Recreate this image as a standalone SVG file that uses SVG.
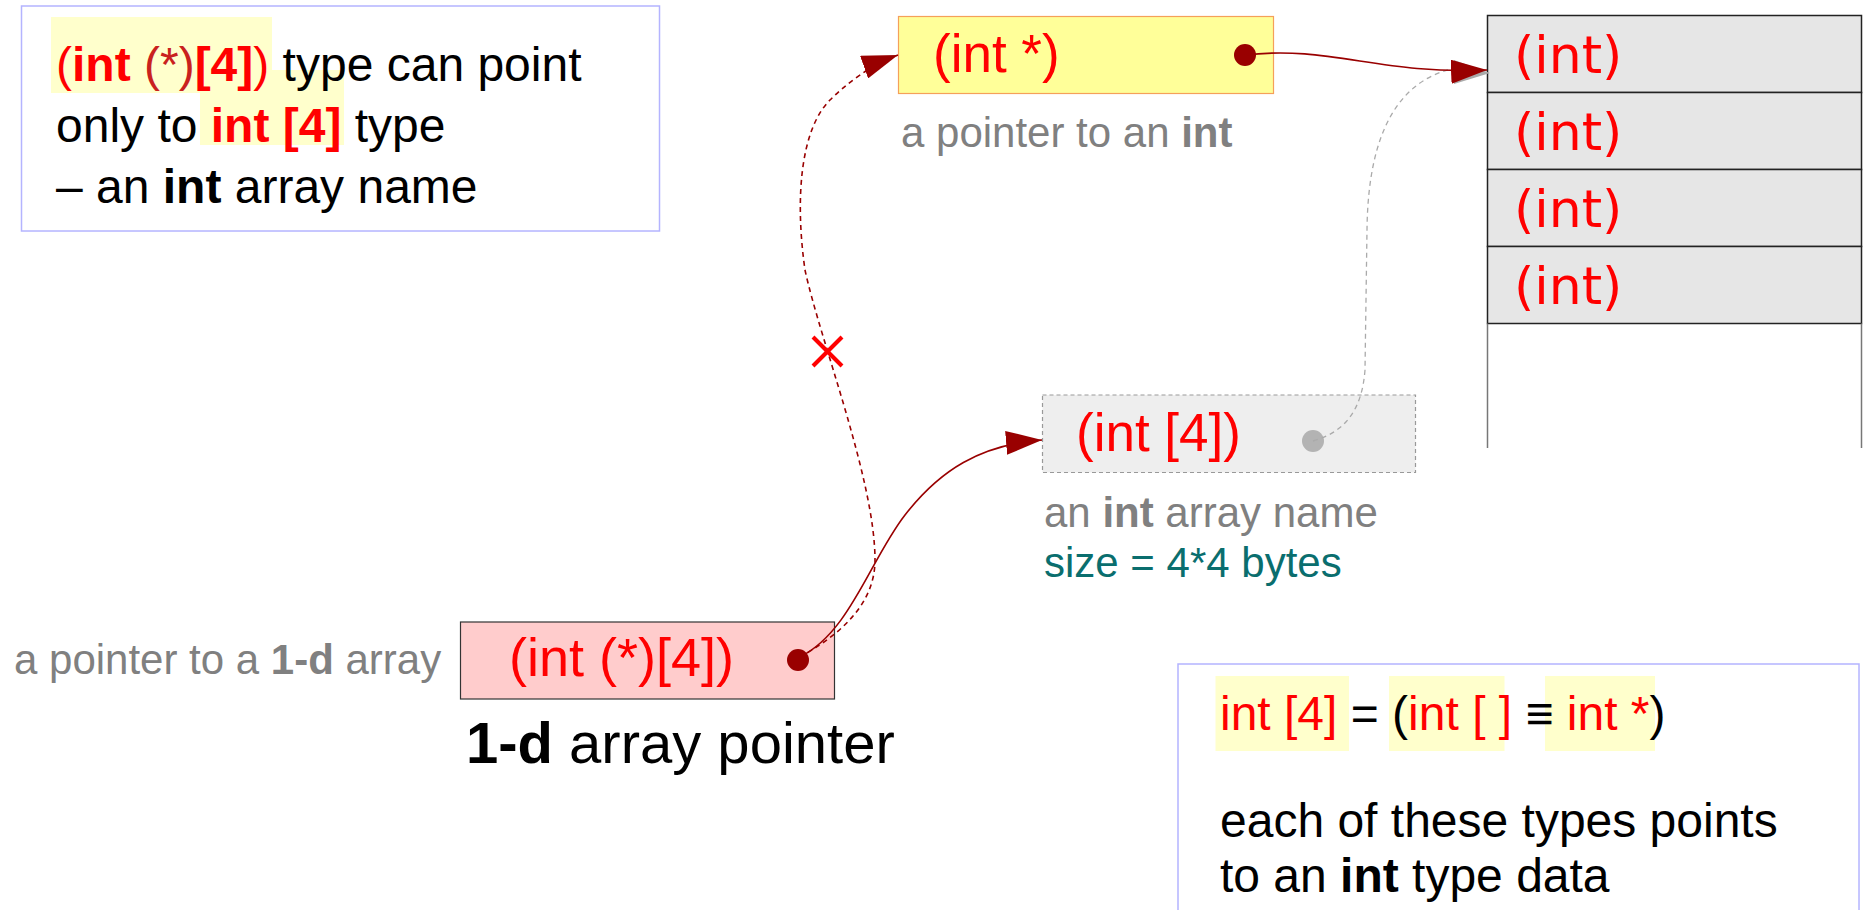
<svg xmlns="http://www.w3.org/2000/svg" width="1870" height="910" viewBox="0 0 1870 910">
<style>
text{font-family:"Liberation Sans",Arial,sans-serif;}
.t48{font-size:48px;fill:#000;}
.gray{font-size:42px;fill:#808080;}
.teal{font-size:42px;fill:#0a6e6e;}
.lbl{font-size:53px;fill:#ff0000;}
.cell{font-family:"DejaVu Sans",sans-serif;font-size:52px;fill:#ff0000;}
.red{fill:#ff0000;}
.b{font-weight:bold;}
.hl{fill:#ffffcc;}
.note{fill:#fff;stroke:#b4b4ff;stroke-width:1.5;}
.conn{fill:none;stroke:#990000;stroke-width:1.6;}
.dash{stroke-dasharray:5,4;}
</style>
<defs>
<marker id="arr" markerUnits="userSpaceOnUse" markerWidth="38" markerHeight="24" refX="36" refY="12" orient="auto">
<path d="M0,0 L36,12 L0,24 z" fill="#990000"/>
</marker>
</defs>

<g id="note-top">
<rect class="note" x="21.5" y="6" width="638" height="225"/>
<rect class="hl" x="51" y="17" width="221" height="76"/>
<rect class="hl" x="200" y="70" width="144" height="75"/>
<text class="t48" x="56" y="81"><tspan class="red">(</tspan><tspan class="red b">int</tspan> <tspan fill="#c9211e">(*)</tspan><tspan class="red b">[4]</tspan><tspan class="red">)</tspan> type can point</text>
<text class="t48" x="56" y="142">only to <tspan class="red b">int [4]</tspan> type</text>
<text class="t48" x="56" y="203">– an <tspan class="b">int</tspan> array name</text>
</g>

<g id="node-intptr">
<rect x="898.5" y="16.5" width="375" height="77" fill="#ffff99" stroke="#f5a05a" stroke-width="1.2"/>
<text class="lbl" x="933" y="72">(int *)</text>
<circle cx="1245" cy="55" r="11" fill="#990000"/>
<text class="gray" x="901" y="147">a pointer to an <tspan class="b">int</tspan></text>
</g>

<g id="node-cells">
<rect x="1487.5" y="15.5" width="374" height="77" fill="#e6e6e6" stroke="#222" stroke-width="1.5"/>
<rect x="1487.5" y="92.5" width="374" height="77" fill="#e6e6e6" stroke="#222" stroke-width="1.5"/>
<rect x="1487.5" y="169.5" width="374" height="77" fill="#e6e6e6" stroke="#222" stroke-width="1.5"/>
<rect x="1487.5" y="246.5" width="374" height="77" fill="#e6e6e6" stroke="#222" stroke-width="1.5"/>
<line x1="1487.5" y1="323.5" x2="1487.5" y2="448" stroke="#777" stroke-width="1.5"/>
<line x1="1861.5" y1="323.5" x2="1861.5" y2="448" stroke="#777" stroke-width="1.5"/>
<text class="cell" x="1514" y="73">(int)</text>
<text class="cell" x="1514" y="150">(int)</text>
<text class="cell" x="1514" y="227">(int)</text>
<text class="cell" x="1514" y="304">(int)</text>
</g>

<g id="node-intarr">
<rect x="1042.5" y="395" width="373" height="77.5" fill="#eeeeee" stroke="#999" stroke-width="1.2" stroke-dasharray="4,3"/>
<text class="lbl" x="1076" y="451">(int [4])</text>
<circle cx="1313" cy="441" r="11" fill="#b3b3b3"/>
<text class="gray" x="1044" y="527">an <tspan class="b">int</tspan> array name</text>
<text class="teal" x="1044" y="577">size = 4*4 bytes</text>
</g>

<g id="node-arrptr">
<rect x="460.5" y="622" width="374" height="77" fill="#ffcccc" stroke="#333" stroke-width="1.2"/>
<text class="lbl" x="509" y="676" style="font-size:54px">(int (*)[4])</text>
<circle cx="798" cy="660" r="11" fill="#990000"/>
<text class="gray" x="14" y="674">a pointer to a <tspan class="b">1-d</tspan> array</text>
<text x="466" y="763" style="font-size:58px;fill:#000"><tspan class="b">1-d</tspan> array pointer</text>
</g>

<g id="note-bottom">
<rect class="note" x="1178" y="664" width="681" height="260"/>
<rect class="hl" x="1215.5" y="676" width="133.5" height="75"/>
<rect class="hl" x="1389" y="676" width="115.5" height="75"/>
<rect class="hl" x="1545" y="676" width="110" height="75"/>
<text class="t48" x="1220" y="730"><tspan class="red">int [4]</tspan> = (<tspan class="red">int [ ]</tspan> ≡ <tspan class="red">int *</tspan>)</text>
<text class="t48" x="1220" y="837">each of these types points</text>
<text class="t48" x="1220" y="892">to an <tspan class="b">int</tspan> type data</text>
</g>

<g id="connectors">
<path d="M1313,441 C1345,432 1362,410 1365,370 L1367,230 C1368,130 1400,80 1455,68" fill="none" stroke="#aaa" stroke-width="1.3" stroke-dasharray="5,4"/>
<path d="M1454,60 L1490,73 L1454,84 z" fill="#aaa"/>
<path class="conn" d="M1245,55 C1330,45 1380,75 1487,70" marker-end="url(#arr)"/>
<path class="conn" d="M800,657 C850,632 870,560 905,515 C940,470 980,445 1042,440" marker-end="url(#arr)"/>
<path class="conn dash" d="M800,657 C830,640 875,610 875,560 C875,480 820,340 805,270 C795,200 800,130 830,100 C845,85 870,65 898,55" marker-end="url(#arr)"/>
<g stroke="#ff0000" stroke-width="4">
<line x1="813" y1="337" x2="842" y2="366"/>
<line x1="842" y1="337" x2="813" y2="366"/>
</g>
</g>
</svg>
